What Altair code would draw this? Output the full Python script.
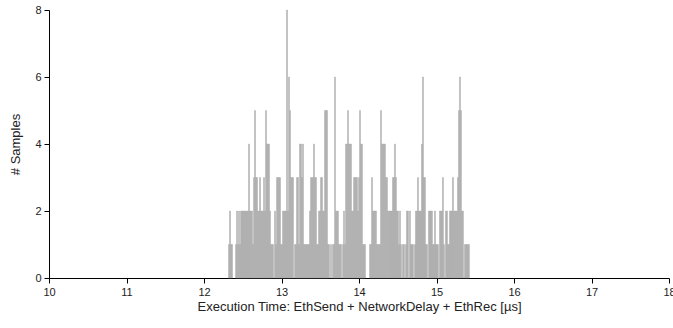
import altair as alt
import pandas as pd

# Histogram counts, one bin per ~0.0129 µs, starting at 12.31 µs
bin_start = 12.31
bin_width = 0.0129
counts = [
    1, 2, 1, 1, 0, 0, 0, 1, 2, 1, 2, 1, 2, 2, 2, 2, 2, 2, 2, 2,
    4, 2, 2, 2, 1, 3, 5, 3, 3, 2, 2, 3, 2, 2, 2, 3, 2, 5, 4, 4,
    4, 2, 1, 1, 1, 0, 2, 1, 3, 3, 3, 3, 1, 1, 2, 2, 2, 2, 8, 2,
    6, 5, 3, 3, 3, 0, 1, 1, 3, 3, 1, 4, 4, 3, 4, 1, 1, 1, 1, 1,
    1, 2, 3, 3, 3, 4, 3, 3, 1, 1, 2, 2, 3, 3, 2, 2, 5, 5, 5, 1,
    1, 0, 1, 0, 1, 1, 6, 2, 2, 2, 1, 1, 1, 0, 1, 2, 1, 4, 4, 5,
    4, 4, 4, 2, 2, 3, 3, 3, 3, 2, 3, 5, 4, 4, 1, 1, 1, 0, 0, 0,
    0, 1, 1, 3, 2, 2, 2, 2, 1, 1, 1, 1, 5, 4, 4, 4, 4, 3, 3, 2,
    2, 2, 2, 2, 3, 3, 4, 3, 2, 2, 1, 2, 1, 0, 1, 1, 0, 1, 2, 2,
    0, 2, 1, 1, 1, 0, 1, 2, 2, 3, 2, 2, 2, 4, 6, 3, 3, 1, 1, 0,
    2, 2, 2, 2, 1, 1, 2, 1, 1, 1, 0, 2, 2, 2, 3, 1, 0, 2, 2, 1,
    1, 2, 2, 2, 3, 2, 2, 2, 2, 3, 5, 6, 5, 2, 2, 0, 1, 1, 1, 1,
    1, 0,
]

x_ticks = [10, 11, 12, 13, 14, 15, 16, 17, 18]
y_ticks = [0, 2, 4, 6, 8]

starts = [round(bin_start + i * bin_width, 5) for i in range(len(counts))]
df = pd.DataFrame({
    "start": starts,
    "end": [s + bin_width for s in starts],
    "samples": counts,
})
df = df[df["samples"] > 0]

chart = alt.Chart(df).mark_bar(
    color="#aaaaaa", binSpacing=0, stroke="#aaaaaa", strokeWidth=0.4
).encode(
    x=alt.X(
        "start:Q",
        bin="binned",
        scale=alt.Scale(domain=[10, 18], nice=False, zero=False),
        axis=alt.Axis(
            values=x_ticks,
            title="Execution Time: EthSend + NetworkDelay + EthRec [µs]",
            grid=False,
            labelFontSize=11,
            titleFontSize=13,
            titleFontWeight="normal",
            labelFont="Liberation Sans",
            titleFont="Liberation Sans",
            domainColor="black",
            tickColor="black",
            labelColor="#222222",
            titleColor="#222222",
            tickSize=5,
            labelPadding=3,
            titlePadding=3,
            labelFlush=False,
        ),
    ),
    x2="end:Q",
    y=alt.Y(
        "samples:Q",
        scale=alt.Scale(domain=[0, 8], nice=False),
        axis=alt.Axis(
            values=y_ticks,
            title="# Samples",
            grid=False,
            labelFontSize=11,
            titleFontSize=13,
            titleFontWeight="normal",
            labelFont="Liberation Sans",
            titleFont="Liberation Sans",
            domainColor="black",
            tickColor="black",
            labelColor="#222222",
            titleColor="#222222",
            tickSize=5,
            labelPadding=3,
            titlePadding=12,
        ),
    ),
).properties(
    width=620,
    height=268,
    autosize=alt.AutoSizeParams(type="none"),
    padding={"left": 49, "top": 10, "right": 4, "bottom": 50},
).configure_view(stroke=None)

chart.save("out.html", embed_options={"renderer": "svg", "actions": False})
